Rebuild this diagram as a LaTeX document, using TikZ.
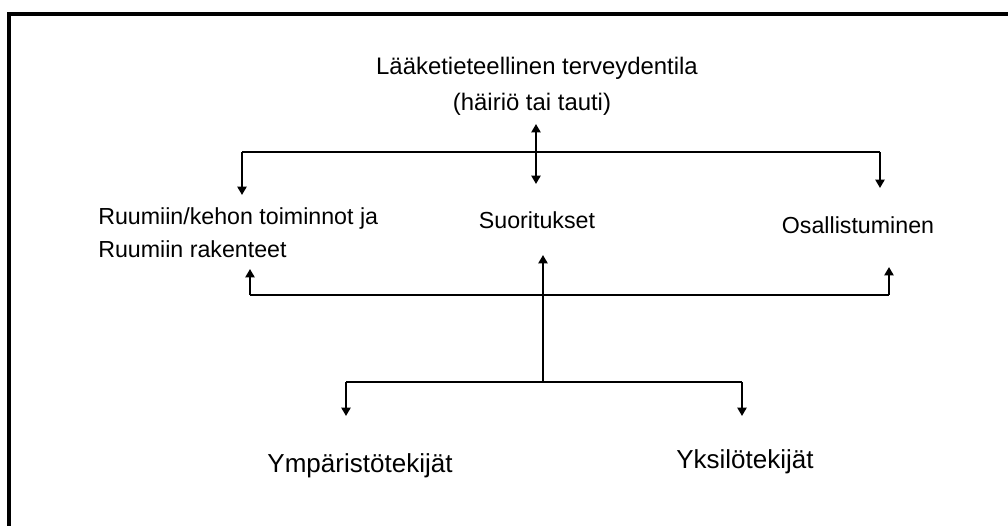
\documentclass[tikz,border=0pt]{standalone}
\usepackage{fontspec}
\setmainfont{Liberation Sans}
\usetikzlibrary{positioning,arrows.meta}
\tikzset{
  flowarrow/.style={-{Triangle[width=6.5pt,length=6pt]}, line width=1.9pt},
  flowline/.style={line width=1.9pt},
  botharrow/.style={{Triangle[width=6.5pt,length=6pt]}-{Triangle[width=6.5pt,length=6pt]}, line width=1.9pt},
  label/.style={font=\fontsize{16.5}{19}\selectfont, inner sep=0pt, anchor=base},
  biglabel/.style={label, font=\fontsize{18.5}{22}\selectfont}
}

\begin{document}
\begin{tikzpicture}[x=0.025cm, y=-0.025cm]
  \useasboundingbox (0,0) rectangle (1008,526);
  \clip (0,0) rectangle (1008,526);
  \draw[line width=2.4pt] (9,14) rectangle (1040,560);

  % texts
  \node[label, font=\fontsize{17}{20}\selectfont] (cond1) at (537,74) {Lääketieteellinen terveydentila};
  \node[label, font=\fontsize{17}{20}\selectfont] (cond2) at (532,110) {(häiriö tai tauti)};
  \node[label, anchor=base west] (body1) at (98,224) {Ruumiin/kehon toiminnot ja};
  \node[label, anchor=base west] (body2) at (98,257) {Ruumiin rakenteet};
  \node[label] (act) at (537,228) {Suoritukset};
  \node[label] (part) at (858,233) {Osallistuminen};
  \node[biglabel] (env) at (360,472) {Ympäristötekijät};
  \node[biglabel] (pers) at (745,468) {Yksilötekijät};

  % junctions
  \coordinate (c1) at (536,124);
  \coordinate (c2) at (536,184);
  \coordinate (t0) at (242,152);
  \coordinate (t1) at (242,195);
  \coordinate (t2) at (880,152);
  \coordinate (t3) at (880,188);
  \coordinate (m0) at (250,295);
  \coordinate (m1) at (250,269);
  \coordinate (m2) at (889,295);
  \coordinate (m3) at (889,267);
  \coordinate (s0) at (543,382);
  \coordinate (s1) at (543,255);
  \coordinate (b0) at (346,382);
  \coordinate (b1) at (346,416);
  \coordinate (b2) at (742,382);
  \coordinate (b3) at (742,416);

  % upper fork
  \draw[botharrow] (c1) -- (c2);
  \draw[flowline] (t0) -- (t2);
  \draw[flowarrow] (t0) -- (t1);
  \draw[flowarrow] (t2) -- (t3);

  % middle bar
  \draw[flowline] (m0) -- (m2);
  \draw[flowarrow] (m0) -- (m1);
  \draw[flowarrow] (m2) -- (m3);
  \draw[flowarrow] (s0) -- (s1);

  % lower fork
  \draw[flowline] (b0) -- (b2);
  \draw[flowarrow] (b0) -- (b1);
  \draw[flowarrow] (b2) -- (b3);
\end{tikzpicture}
\end{document}
